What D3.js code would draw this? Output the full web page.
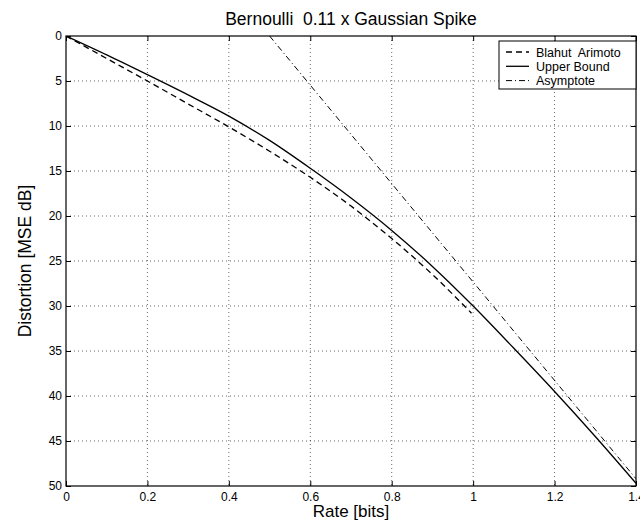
<!DOCTYPE html>
<html><head><meta charset="utf-8">
<script src="https://cdn.jsdelivr.net/npm/d3@7"></script>
<style>body{margin:0;background:#fff}text{font-family:"Liberation Sans",Arial,Helvetica,sans-serif;white-space:pre}</style>
</head><body><svg id="c" width="640" height="527"></svg>
<script>
const title = "Bernoulli  0.11 x Gaussian Spike";
const xLabel = "Rate [bits]";
const yLabel = "Distortion [MSE dB]";
const xTicks = [0, 0.2, 0.4, 0.6, 0.8, 1, 1.2, 1.4];
const yTicks = [0, 5, 10, 15, 20, 25, 30, 35, 40, 45, 50];
// Blahut Arimoto (dashed)
const baR = [0, 0.1, 0.2, 0.3, 0.4, 0.5, 0.6, 0.7, 0.8, 0.9, 0.996];
const baD = [0, 2.5, 5.0, 7.55, 10.1, 12.8, 15.7, 18.9, 22.5, 26.5, 30.8];
// Upper Bound (solid)
const ubR = [0, 0.1, 0.2, 0.3, 0.4, 0.5, 0.6, 0.7, 0.8, 0.9, 1.0, 1.1, 1.2, 1.3, 1.4];
const ubD = [0, 2.1, 4.3, 6.55, 8.9, 11.6, 14.7, 18.0, 21.6, 25.6, 30.0, 34.7, 39.5, 44.5, 49.7];
// Asymptote (dash-dot)
const asR = [0.5, 1.4];
const asD = [0.0, 49.2];
const legendLabels = ["Blahut  Arimoto", "Upper Bound", "Asymptote"];

const svg = d3.select("#c");
const L = 66, R = 636, T = 36, B = 486;
const x = d3.scaleLinear().domain([0, 1.4]).range([L, R]);
const y = d3.scaleLinear().domain([0, 50]).range([T, B]);

// grid
const g = svg.append("g");
g.selectAll(".gx").data(xTicks.slice(1, -1)).enter().append("line")
  .attr("x1", d => x(d)).attr("x2", d => x(d)).attr("y1", T).attr("y2", B)
  .attr("stroke", "#000").attr("stroke-width", 0.6).attr("stroke-dasharray", "1,3");
g.selectAll(".gy").data(yTicks.slice(1, -1)).enter().append("line")
  .attr("y1", d => y(d)).attr("y2", d => y(d)).attr("x1", L).attr("x2", R)
  .attr("stroke", "#000").attr("stroke-width", 0.6).attr("stroke-dasharray", "1,3");

// axes
svg.append("g").attr("transform", `translate(0,${B})`)
  .call(d3.axisBottom(x).tickValues(xTicks).tickFormat(d3.format("~g")).tickSizeInner(-5).tickSizeOuter(0).tickPadding(6));
svg.append("g").attr("transform", `translate(${L},0)`)
  .call(d3.axisLeft(y).tickValues(yTicks).tickFormat(d3.format("~g")).tickSizeInner(-5).tickSizeOuter(0).tickPadding(4));
svg.append("g").attr("transform", `translate(0,${T})`)
  .call(d3.axisTop(x).tickValues(xTicks).tickFormat("").tickSizeInner(-5).tickSizeOuter(0));
svg.append("g").attr("transform", `translate(${R},0)`)
  .call(d3.axisRight(y).tickValues(yTicks).tickFormat("").tickSizeInner(-5).tickSizeOuter(0));
svg.selectAll(".domain").remove();
svg.selectAll(".tick line").attr("stroke", "#000");
svg.selectAll(".tick text").attr("font-size", 12).attr("fill", "#000")
  .style("font-family", '"Liberation Sans",Arial,sans-serif');
svg.append("rect").attr("x", L).attr("y", T).attr("width", R - L).attr("height", B - T)
  .attr("fill", "none").attr("stroke", "#000").attr("stroke-width", 1.2);

// clip
svg.append("clipPath").attr("id", "clip").append("rect")
  .attr("x", L).attr("y", T).attr("width", R - L).attr("height", B - T);

const line = d3.line().x(d => x(d[0])).y(d => y(d[1]));
const smooth = d3.line().x(d => x(d[0])).y(d => y(d[1])).curve(d3.curveMonotoneX);
const plot = svg.append("g").attr("clip-path", "url(#clip)");
plot.append("path").datum(baR.map((r, i) => [r, baD[i]])).attr("d", smooth)
  .attr("fill", "none").attr("stroke", "#000").attr("stroke-width", 1.3).attr("stroke-dasharray", "6,4");
plot.append("path").datum(ubR.map((r, i) => [r, ubD[i]])).attr("d", smooth)
  .attr("fill", "none").attr("stroke", "#000").attr("stroke-width", 1.3);
plot.append("path").datum(asR.map((r, i) => [r, asD[i]])).attr("d", line)
  .attr("fill", "none").attr("stroke", "#000").attr("stroke-width", 1).attr("stroke-dasharray", "6,3,1,3");

// labels
svg.append("text").attr("x", 351).attr("y", 25).attr("text-anchor", "middle").attr("font-size", 17.5).text(title);
svg.append("text").attr("x", 351).attr("y", 517).attr("text-anchor", "middle").attr("font-size", 17).text(xLabel);
svg.append("text").attr("transform", `translate(31,${(T + B) / 2}) rotate(-90)`).attr("text-anchor", "middle").attr("font-size", 17.5).text(yLabel);

// legend
const lg = svg.append("g");
lg.append("rect").attr("x", 499).attr("y", 41).attr("width", 137).attr("height", 48)
  .attr("fill", "#fff").attr("stroke", "#000").attr("stroke-width", 1);
const dashes = ["6,4", null, "6,3,1,3"];
legendLabels.forEach((t, i) => {
  const yy = 52 + i * 14.3;
  lg.append("line").attr("x1", 506).attr("x2", 529).attr("y1", yy).attr("y2", yy)
    .attr("stroke", "#000").attr("stroke-width", i === 2 ? 1 : 1.3).attr("stroke-dasharray", dashes[i]);
  lg.append("text").attr("x", 536).attr("y", yy + 4.5).attr("font-size", 12.5).text(t);
});
</script></body></html>
